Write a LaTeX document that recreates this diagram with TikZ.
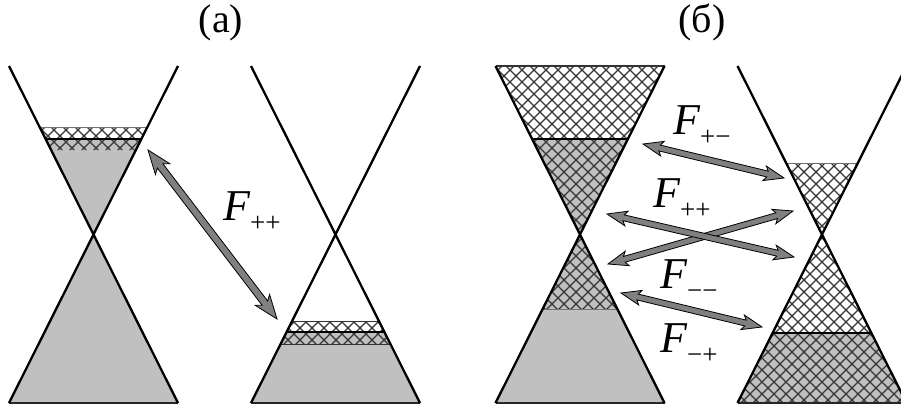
\documentclass[tikz,border=0pt]{standalone}
\usepackage{fontspec}
\setmainfont{Liberation Serif}
\newfontfamily\ttlfont{Liberation Serif}
\usetikzlibrary{calc,patterns}
\pgfdeclarepatternformonly{mycross}{\pgfpoint{-1pt}{-1pt}}{\pgfpoint{13pt}{13pt}}{\pgfpoint{12pt}{12pt}}{%
 \pgfsetlinewidth{1.1pt}%
 \pgfpathmoveto{\pgfpoint{-1pt}{-1pt}}\pgfpathlineto{\pgfpoint{13pt}{13pt}}%
 \pgfpathmoveto{\pgfpoint{-1pt}{13pt}}\pgfpathlineto{\pgfpoint{13pt}{-1pt}}%
 \pgfusepath{stroke}}
\definecolor{conegray}{RGB}{192,192,192}
\definecolor{arrowgray}{RGB}{128,128,128}
\definecolor{hatchcol}{RGB}{55,55,55}
\tikzset{
 hatchw/.style={pattern=mycross, pattern color=hatchcol},
 hatchg/.style={fill=conegray, postaction={pattern=mycross, pattern color=hatchcol}},
 solidg/.style={fill=conegray},
 coneline/.style={line width=2.3pt, black},
 sepline/.style={line width=1.6pt, black},
 thinline/.style={line width=0.9pt, black!55},
 baseedge/.style={line width=1.8pt, black!85},
 arrowsty/.style={draw=black, line width=0.8pt, fill=arrowgray, line join=miter},
 flabel/.style={anchor=base west, inner sep=0pt},
 title/.style={anchor=base, inner sep=0pt, font=\ttlfont\fontsize{40}{40}\selectfont}
}
\def\HL{20pt}\def\HB{17pt}\def\HW{7.5pt}\def\SW{3pt}
\newcommand\dblarr[2]{%
 \draw[arrowsty] let \p1=($(#2)-(#1)$), \n1={atan2(\y1,\x1)} in
 (#1) -- ($(#1)+(\n1:\HL)+(\n1+90:\HW)$) -- ($(#1)+(\n1:\HB)+(\n1+90:\SW)$)
 -- ($(#2)-(\n1:\HB)+(\n1+90:\SW)$) -- ($(#2)-(\n1:\HL)+(\n1+90:\HW)$) -- (#2)
 -- ($(#2)-(\n1:\HL)-(\n1+90:\HW)$) -- ($(#2)-(\n1:\HB)-(\n1+90:\SW)$)
 -- ($(#1)+(\n1:\HB)-(\n1+90:\SW)$) -- ($(#1)+(\n1:\HL)-(\n1+90:\HW)$) -- cycle;}
\newcommand\flab[1]{{\fontsize{44}{44}\selectfont\itshape F}\raisebox{-11pt}{\fontsize{27}{27}\selectfont #1}}
\begin{document}
\begin{tikzpicture}[x=1pt,y=-1pt]
\useasboundingbox (0,0) rectangle (901,412);
\clip (0,0) rectangle (901,412);
% ---------- cone A ----------
\fill[solidg] (93.5,234.5) -- (9,403) -- (178,403) -- cycle;
\fill[solidg] (93.5,234.5) -- (51.1,150) -- (135.9,150) -- cycle;
\path[hatchg] (51.1,150) -- (45.6,139) -- (141.4,139) -- (135.9,150) -- cycle;
\path[hatchw] (45.6,139) -- (39.6,127) -- (147.4,127) -- (141.4,139) -- cycle;
\draw[thinline] (39.6,127) -- (147.4,127);
\draw[sepline] (45.6,139) -- (141.4,139);
\draw[baseedge] (9,403) -- (178,403);
\draw[coneline] (9,66) -- (178,403) (178,66) -- (9,403);
% ---------- cone B ----------
\path[hatchw] (292.1,321) -- (286.6,332) -- (384.4,332) -- (378.9,321) -- cycle;
\path[hatchg] (286.6,332) -- (280.6,344) -- (390.4,344) -- (384.4,332) -- cycle;
\fill[solidg] (280.6,344) -- (251,403) -- (420,403) -- (390.4,344) -- cycle;
\draw[thinline, black!80] (292.1,321) -- (378.9,321);
\draw[sepline] (286.6,332) -- (384.4,332);
\draw[thinline, black!80] (280.6,344) -- (390.4,344);
\draw[baseedge] (251,403) -- (420,403);
\draw[coneline] (251,66) -- (420,403) (420,66) -- (251,403);
% ---------- cone C ----------
\path[hatchw] (495.5,66) -- (664.5,66) -- (627.9,139) -- (532.1,139) -- cycle;
\path[hatchg] (532.1,139) -- (627.9,139) -- (580,234.5) -- cycle;
\path[hatchg] (580,234.5) -- (542.6,309) -- (617.4,309) -- cycle;
\fill[solidg] (542.6,309) -- (495.5,403) -- (664.5,403) -- (617.4,309) -- cycle;
\draw[line width=1.4pt, black!80] (495.5,66) -- (664.5,66);
\draw[sepline] (532.1,139) -- (627.9,139);
\draw[thinline] (542.6,309) -- (617.4,309);
\draw[baseedge] (495.5,403) -- (664.5,403);
\draw[coneline] (495.5,66) -- (664.5,403) (664.5,66) -- (495.5,403);
% ---------- cone D ----------
\path[hatchw] (786.1,163) -- (857.9,163) -- (822,234.5) -- cycle;
\path[hatchw] (822,234.5) -- (772.6,333) -- (871.4,333) -- cycle;
\path[hatchg] (772.6,333) -- (737.5,403) -- (906.5,403) -- (871.4,333) -- cycle;
\draw[thinline] (786.1,163) -- (857.9,163);
\draw[sepline] (772.6,333) -- (871.4,333);
\draw[baseedge] (737.5,403) -- (906.5,403);
\draw[coneline] (737.5,66) -- (906.5,403) (906.5,66) -- (737.5,403);
% ---------- arrows ----------
\coordinate (a1) at (148,150);
\coordinate (a2) at (277,319);
\coordinate (pm1) at (643,144);
\coordinate (pm2) at (784,178);
\coordinate (pp1) at (607,214);
\coordinate (pp2) at (794,257);
\coordinate (pq1) at (608,264);
\coordinate (pq2) at (793,211);
\coordinate (mm1) at (621,293);
\coordinate (mm2) at (762,327);
\begingroup
\def\HL{24pt}\def\HB{20pt}\def\HW{9pt}\def\SW{3.5pt}
\dblarr{a1}{a2}
\endgroup
\dblarr{pm1}{pm2}
\dblarr{pq1}{pq2}
\dblarr{pp1}{pp2}
\dblarr{mm1}{mm2}
% ---------- labels ----------
\node[title] (ta) at (221,33) {(a)};
\node[title] (tb) at (702,33) {(б)};
\node[flabel] (fa) at (223,220) {\flab{++}};
\node[flabel] (fpm) at (673,134) {\flab{+−}};
\node[flabel] (fpp) at (653,207) {\flab{++}};
\node[flabel] (fmm) at (660,288) {\flab{−−}};
\node[flabel] (fmp) at (660,352) {\flab{−+}};
\end{tikzpicture}
\end{document}
